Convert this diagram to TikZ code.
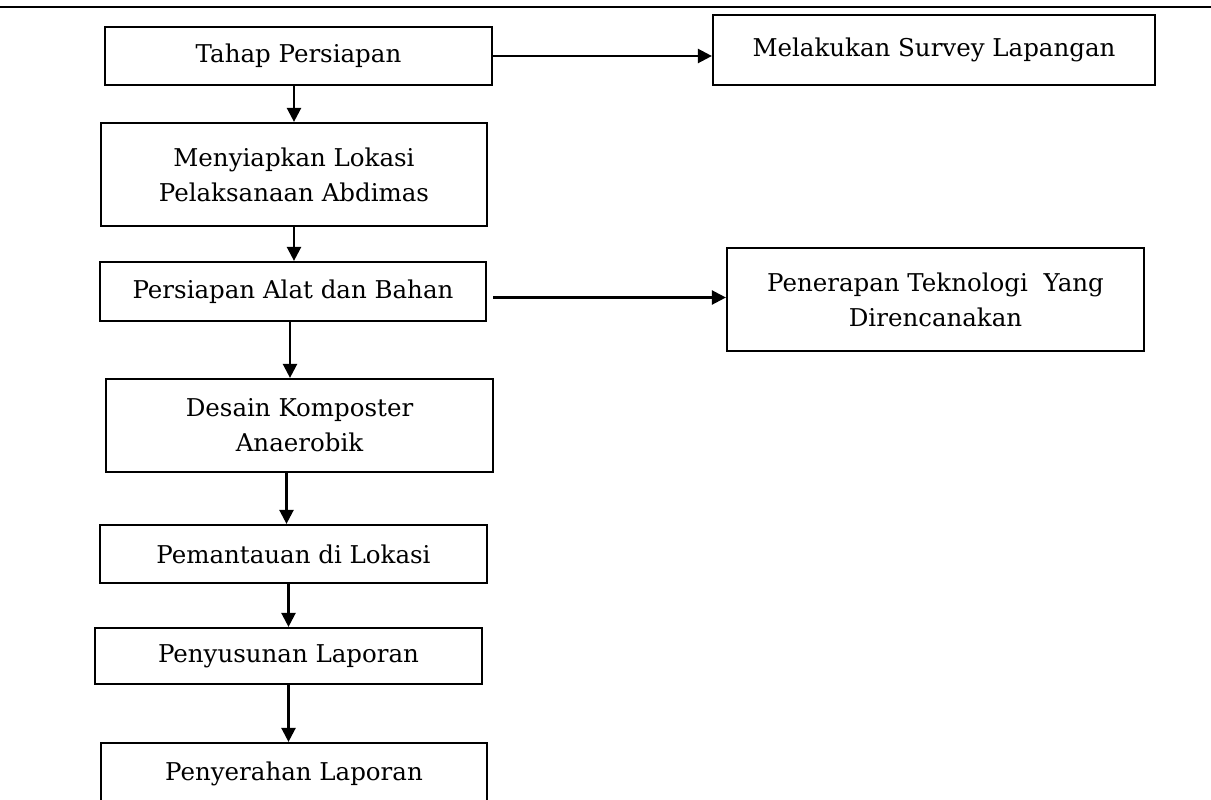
\documentclass[tikz,border=0pt]{standalone}
\usepackage{fontspec}
\setmainfont{DejaVu Serif}
\usetikzlibrary{arrows.meta, calc}

\begin{document}
\begin{tikzpicture}
    [x=1pt, y=-1pt,
     font=\fontsize{24.5}{35}\selectfont,
     >={Triangle[length=14pt, width=14pt]},
     box/.style={draw, line width=2.2pt, align=center, inner sep=0pt},
     flow/.style={->, line width=2.4pt},
    ]
    \useasboundingbox (0, 0) rectangle (1211, 800);

    % Rule at the top of the page
    \draw[line width=2.2pt] (0, 7) -- (1211, 7);

    % Boxes: name / centre x / centre y / width / height / text
    \foreach \bn / \bx / \by / \bw / \bh / \btext in
             {tahap/298.5/56/387/58/{Tahap Persiapan},
              survey/934/50/442/70/{Melakukan Survey Lapangan},
              lokasi/294/174.5/386/103/{Menyiapkan Lokasi\\Pelaksanaan Abdimas},
              alat/293/291.5/386/59/{Persiapan Alat dan Bahan},
              tek/935.5/299.5/417/103/{Penerapan Teknologi~ Yang\\Direncanakan},
              desain/299.5/425.5/387/93/{Desain Komposter\\Anaerobik},
              pemantauan/293.5/554/387/58/{Pemantauan di Lokasi},
              penyusunan/288.5/656/387/56/{Penyusunan Laporan},
              penyerahan/294/774/386/62/{Penyerahan Laporan}} {
        \node[box, minimum width=\bw pt, minimum height=\bh pt]
            (\bn) at (\bx, \by) {\btext};
    }

    % Side branches
    \draw[flow] (tahap.east) -- (tahap.east -| survey.west);
    \draw[flow] ($(alat.east |- tek.west) + (6, -2)$) -- ($(tek.west) + (0, -2)$);

    % Main column
    \draw[flow] (lokasi.north |- tahap.south) -- (lokasi.north);
    \draw[flow] (lokasi.south) -- (lokasi.south |- alat.north);
    \draw[flow] ([xshift=-3pt]alat.south) -- ([xshift=-3pt]alat.south |- desain.north);
    \draw[flow] ([xshift=-7pt]pemantauan.north |- desain.south) -- ([xshift=-7pt]pemantauan.north);
    \draw[flow] (penyusunan.north |- pemantauan.south) -- (penyusunan.north);
    \draw[flow] (penyusunan.south) -- (penyusunan.south |- penyerahan.north);
\end{tikzpicture}
\end{document}
